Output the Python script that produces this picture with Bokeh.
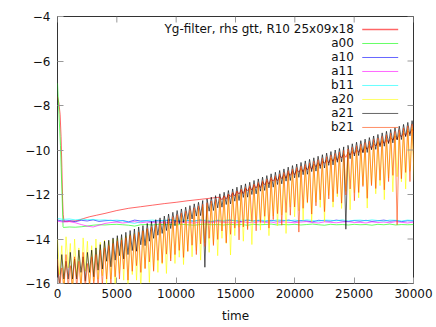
from math import pi
from bokeh.plotting import figure
from bokeh.models import FixedTicker, Label
from bokeh.embed import file_html
from bokeh.resources import INLINE

FONT = "DejaVu Sans"

# ---------------- data ----------------
x_ticks = [0, 5000, 10000, 15000, 20000, 25000, 30000]
y_ticks = [-16, -14, -12, -10, -8, -6, -4]

HALF = 180  # sampling: one peak and one dip per 360 time units

# a21 (black): oscillation peaks and dip depths
a21_peak = [-15.2, -14.7, -15.0, -14.6, -14.9, -14.5, -14.8, -14.6, -14.5, -14.4,
            -14.25, -14.1, -14.05, -13.95, -13.85, -13.8, -13.7, -13.62, -13.55, -13.46,
            -13.4, -13.3, -13.22, -13.13, -13.05, -12.97, -12.88, -12.8, -12.72, -12.65,
            -12.57, -12.5, -12.42, -12.35, -12.27, -12.2, -12.12, -12.05, -11.97, -11.9,
            -11.82, -11.75, -11.67, -11.58, -11.52, -11.45, -11.37, -11.3, -11.22, -11.15,
            -11.07, -11.0, -10.92, -10.85, -10.77, -10.7, -10.63, -10.56, -10.49, -10.42,
            -10.35, -10.28, -10.21, -10.14, -10.07, -10.0, -9.93, -9.86, -9.79, -9.72,
            -9.65, -9.58, -9.51, -9.44, -9.37, -9.3, -9.23, -9.16, -9.08, -9.0,
            -8.93, -8.85, -8.76, -8.68]
a21_depth = [0.9, 1.1, 0.8, 1.2, 0.9, 1.0, 1.1, 0.9, 1.2, 1.0,
             1.1, 0.9, 1.2, 1.0, 0.9, 1.1, 1.0, 0.9, 1.0, 0.8,
             0.9, 0.8, 0.75, 0.7, 0.7, 0.65, 0.65, 0.6, 0.6, 0.6,
             0.55, 0.6, 0.55, 0.6, 3.0, 0.55, 0.6, 0.55, 0.6, 0.55,
             0.6, 0.55, 0.6, 0.55, 0.6, 0.55, 0.6, 0.55, 0.6, 0.55,
             0.6, 0.55, 0.6, 0.55, 0.6, 0.55, 0.6, 0.55, 0.6, 0.55,
             0.6, 0.55, 0.6, 0.55, 0.6, 0.55, 0.6, 3.7, 0.6, 0.55,
             0.6, 0.55, 0.6, 0.55, 0.6, 0.55, 0.6, 0.55, 0.6, 0.55,
             0.6, 0.55, 0.6, 0.55]

# b21 (orange-red)
b21_peak = [-14.9, -15.3, -14.7, -15.2, -14.8, -15.0, -14.6, -15.1, -14.8, -14.7,
            -14.5, -14.4, -14.3, -14.2, -14.1, -14.05, -13.95, -13.85, -13.8, -13.7,
            -13.63, -13.53, -13.45, -13.36, -13.27, -13.18, -13.09, -13.0, -12.91, -12.83,
            -12.75, -12.68, -12.6, -12.52, -12.44, -12.37, -12.29, -12.22, -12.14, -12.07,
            -11.99, -11.91, -11.84, -11.76, -11.68, -11.61, -11.53, -11.46, -11.38, -11.31,
            -11.23, -11.16, -11.08, -11.01, -10.93, -10.86, -10.79, -10.72, -10.65, -10.58,
            -10.51, -10.44, -10.37, -10.3, -10.23, -10.16, -10.09, -10.02, -9.95, -9.88,
            -9.81, -9.74, -9.67, -9.6, -9.53, -9.46, -9.39, -9.32, -9.24, -9.16,
            -9.09, -9.01, -8.92, -8.84]
b21_depth = [1.3, 1.0, 1.5, 1.1, 1.4, 1.2, 1.6, 1.0, 1.3, 1.5,
             1.6, 1.4, 1.8, 1.5, 1.7, 1.3, 1.9, 1.6, 1.4, 1.8,
             1.7, 1.5, 2.0, 1.6, 1.8, 1.5, 1.9, 1.7, 1.6, 2.0,
             1.8, 1.6, 2.1, 1.7, 1.9, 1.6, 2.0, 1.8, 1.5, 2.1,
             1.8, 1.6, 2.2, 1.7, 1.9, 1.6, 2.1, 1.8, 1.6, 2.2,
             1.9, 1.7, 2.3, 1.8, 2.0, 1.7, 2.9, 1.9, 1.7, 2.3,
             2.0, 1.8, 2.4, 1.9, 2.1, 1.8, 2.3, 2.0, 1.8, 2.4,
             2.1, 1.9, 2.5, 2.0, 2.2, 1.9, 2.4, 2.1, 1.9, 4.2,
             2.2, 2.0, 2.5, 2.1]

# a20 (yellow)
a20_peak = [-14.0, -14.3, -13.9, -14.2, -14.0, -14.4, -13.95, -14.1, -14.3, -14.0,
            -14.15, -14.05, -14.1, -14.0, -13.95, -13.95, -13.85, -13.8, -13.75, -13.68,
            -13.62, -13.55, -13.48, -13.4, -13.33, -13.25, -13.17, -13.1, -13.02, -12.95,
            -12.87, -12.8, -12.72, -12.65, -12.57, -12.5, -12.42, -12.35, -12.27, -12.2,
            -12.12, -12.05, -11.97, -11.9, -11.82, -11.75, -11.67, -11.6, -11.52, -11.45,
            -11.37, -11.3, -11.22, -11.15, -11.07, -11.0, -10.93, -10.86, -10.79, -10.72,
            -10.65, -10.58, -10.51, -10.44, -10.37, -10.3, -10.23, -10.16, -10.09, -10.02,
            -9.95, -9.88, -9.81, -9.74, -9.67, -9.6, -9.53, -9.46, -9.38, -9.3,
            -9.23, -9.15, -9.06, -8.98]
a20_depth = [1.6, 2.0, 1.4, 2.2, 1.7, 1.9, 1.5, 2.1, 1.6, 1.8,
             1.5, 2.0, 1.7, 2.2, 1.6, 1.9, 2.3, 1.8, 2.1, 2.6,
             1.7, 2.4, 1.9, 2.1, 1.8, 2.3, 1.7, 2.0, 1.8, 2.2,
             1.7, 2.0, 1.8, 2.3, 1.6, 2.1, 1.8, 2.4, 1.7, 2.0,
             2.6, 1.8, 1.5, 2.2, 1.7, 2.5, 1.6, 2.0, 1.8, 2.4,
             1.6, 2.1, 1.7, 2.6, 1.5, 2.0, 1.8, 2.3, 1.6, 2.5,
             1.7, 2.0, 2.7, 1.6, 2.2, 1.8, 2.4, 1.7, 2.6, 1.9,
             2.2, 1.7, 2.8, 1.8, 2.3, 2.0, 2.7, 1.8, 2.5, 1.9,
             2.2, 2.6, 1.9, 2.4]

# Yg-filter (red): smooth early part, then small wiggles along the oscillation
yg_time = [0, 120, 220, 300, 370, 430, 480, 550, 800, 1200, 1700, 2200,
           2700, 3300, 4000, 5000, 6000, 7000, 8000, 9000, 10000, 11000, 12000, 13000]
yg_value = [-7.6, -7.9, -8.4, -9.4, -10.8, -12.2, -12.9, -13.2, -13.22, -13.2, -13.17, -13.08,
            -13.0, -12.93, -12.85, -12.72, -12.62, -12.55, -12.48, -12.41, -12.35, -12.28, -12.22, -12.16]
YG_OSC_START = 13680
yg_peak = [-12.12, -12.06, -11.99, -11.93, -11.86, -11.8, -11.72, -11.66, -11.58, -11.52,
           -11.44, -11.38, -11.3, -11.24, -11.16, -11.1, -11.02, -10.96, -10.89, -10.83,
           -10.76, -10.7, -10.63, -10.57, -10.5, -10.44, -10.37, -10.31, -10.24, -10.18,
           -10.11, -10.05, -9.98, -9.92, -9.85, -9.79, -9.72, -9.65, -9.58, -9.51,
           -9.44, -9.37, -9.3, -9.22, -9.14, -9.06]
yg_depth = [0.12, 0.15, 0.1, 0.14, 0.12, 0.16, 0.11, 0.14, 0.13, 0.17,
            0.12, 0.15, 0.1, 0.14, 0.13, 0.16, 0.12, 0.15, 0.11, 0.14,
            0.13, 0.17, 0.12, 0.15, 0.1, 0.14, 0.13, 0.16, 0.12, 0.15,
            0.11, 0.14, 0.13, 0.17, 0.12, 0.15, 0.1, 0.14, 0.13, 0.16,
            0.12, 0.15, 0.11, 0.14, 0.13, 0.15]

# nearly constant series, sampled every 500
flat_time = list(range(0, 30001, 500))
a10 = [-13.15, -13.2, -13.17, -13.22, -13.16, -13.19, -13.14, -13.21, -13.18, -13.16,
       -13.2, -13.17, -13.23, -13.15, -13.19, -13.18, -13.22, -13.16, -13.2, -13.14,
       -13.19, -13.21, -13.17, -13.2, -13.15, -13.19, -13.22, -13.17, -13.2, -13.16,
       -13.18, -13.22, -13.15, -13.19, -13.17, -13.21, -13.16, -13.2, -13.18, -13.15,
       -13.21, -13.17, -13.19, -13.23, -13.16, -13.18, -13.2, -13.15, -13.19, -13.22,
       -13.17, -13.2, -13.16, -13.21, -13.18, -13.15, -13.2, -13.17, -13.22, -13.18, -13.19]
b11 = [-13.08, -13.12, -13.1, -13.14, -13.11, -13.13, -13.12, -13.15, -13.14, -13.17,
       -13.15, -13.18, -13.25, -13.3, -13.22, -13.17, -13.15, -13.19, -13.16, -13.14,
       -13.18, -13.15, -13.17, -13.2, -13.14, -13.16, -13.19, -13.15, -13.17, -13.13,
       -13.18, -13.16, -13.14, -13.19, -13.15, -13.17, -13.2, -13.14, -13.16, -13.18,
       -13.15, -13.19, -13.14, -13.17, -13.2, -13.15, -13.16, -13.18, -13.14, -13.19,
       -13.16, -13.15, -13.18, -13.14, -13.17, -13.2, -13.15, -13.16, -13.19, -13.15, -13.17]
a11 = [-13.2, -13.24, -13.22, -13.27, -13.35, -13.42, -13.46, -13.38, -13.3, -13.26,
       -13.24, -13.28, -13.25, -13.22, -13.27, -13.24, -13.26, -13.23, -13.28, -13.25,
       -13.22, -13.26, -13.24, -13.29, -13.23, -13.25, -13.27, -13.22, -13.26, -13.24,
       -13.28, -13.23, -13.25, -13.27, -13.22, -13.26, -13.24, -13.29, -13.23, -13.25,
       -13.27, -13.24, -13.22, -13.26, -13.28, -13.23, -13.25, -13.27, -13.24, -13.22,
       -13.26, -13.25, -13.28, -13.23, -13.26, -13.24, -13.27, -13.22, -13.25, -13.28, -13.24]
a00_time = [0, 250, 470] + list(range(500, 30001, 500))
a00 = [-7.0, -9.8, -13.45,
       -13.48, -13.46, -13.47, -13.45, -13.42, -13.38, -13.36, -13.37, -13.35, -13.34,
       -13.36, -13.38, -13.42, -13.36, -13.35, -13.37, -13.34, -13.36, -13.35, -13.37,
       -13.34, -13.36, -13.38, -13.35, -13.33, -13.36, -13.35, -13.37, -13.34, -13.36,
       -13.35, -13.38, -13.34, -13.36, -13.35, -13.33, -13.37, -13.35, -13.36, -13.34,
       -13.37, -13.35, -13.33, -13.36, -13.38, -13.34, -13.36, -13.35, -13.37, -13.34,
       -13.36, -13.35, -13.38, -13.34, -13.36, -13.33, -13.37, -13.35, -13.36, -13.35]

labels = ["Yg-filter, rhs gtt, R10 25x09x18", "a00", "a10", "a11", "b11", "a20", "a21", "b21"]
colors = ["#ff0000", "#00ff00", "#0000ff", "#ff00ff", "#00ffff", "#ffff00", "#000000", "#ff4500"]
ALPHA = 0.6


def oscillation(peaks, depths, t0=0):
    xs, ys = [], []
    for k, (a, d) in enumerate(zip(peaks, depths)):
        t = t0 + 2 * HALF * k
        xs += [t, t + HALF]
        ys += [a, a - d]
    return xs, ys


# ---------------- figure ----------------
X0, X1 = 0, 30000
Y0, Y1 = -16, -4
p = figure(width=436, height=327, x_range=(X0, X1), y_range=(Y0, Y1),
           output_backend="svg", toolbar_location=None,
           min_border_left=57, min_border_right=23, min_border_top=16, min_border_bottom=44)
p.background_fill_color = "white"
p.border_fill_color = "white"
p.outline_line_color = "#333333"
p.outline_line_width = 1
p.xgrid.visible = False
p.ygrid.visible = False

yg_x = list(yg_time)
yg_y = list(yg_value)
ox, oy = oscillation(yg_peak, yg_depth, YG_OSC_START)
yg_x += ox
yg_y += oy

series = [
    (yg_x, yg_y),
    (a00_time, a00),
    (flat_time, a10),
    (flat_time, a11),
    (flat_time, b11),
    oscillation(a20_peak, a20_depth),
    oscillation(a21_peak, a21_depth),
    oscillation(b21_peak, b21_depth),
]
for (xs, ys), c in zip(series, colors):
    p.line(xs, ys, line_color=c, line_alpha=ALPHA, line_width=1)

# axes styling (ticks inside, gnuplot style)
for ax in [p.xaxis[0], p.yaxis[0]]:
    ax.axis_line_color = None
    ax.major_tick_in = 6
    ax.major_tick_out = 0
    ax.major_tick_line_color = "#999999"
    ax.minor_tick_line_color = None
    ax.major_label_text_font = FONT
    ax.major_label_text_font_size = "12px"
    ax.major_label_text_color = "#111111"

p.xaxis[0].ticker = FixedTicker(ticks=x_ticks)
p.yaxis[0].ticker = FixedTicker(ticks=y_ticks)
p.xaxis[0].major_label_standoff = 5
p.yaxis[0].major_label_standoff = 7
p.xaxis[0].axis_label = "time"
p.xaxis[0].axis_label_text_font = FONT
p.xaxis[0].axis_label_text_font_size = "12px"
p.xaxis[0].axis_label_text_font_style = "normal"
p.xaxis[0].axis_label_standoff = 8
p.xaxis[0].axis_label_text_color = "#111111"

# mirrored ticks on top and right edges (6 px long, inside)
TICK_DX = 6 / 356 * (X1 - X0)
TICK_DY = 6 / 267 * (Y1 - Y0)
p.segment(x0=x_ticks, y0=[Y1] * len(x_ticks), x1=x_ticks, y1=[Y1 - TICK_DY] * len(x_ticks),
          line_color="#999999", line_width=1)
p.segment(x0=[X1] * len(y_ticks), y0=y_ticks, x1=[X1 - TICK_DX] * len(y_ticks), y1=y_ticks,
          line_color="#999999", line_width=1)

# y-axis label with subscript
p.add_layout(Label(x=-3733, y=-10.27, text="log I", angle=pi / 2, text_align="center",
                   text_baseline="middle", text_font=FONT, text_font_size="12px",
                   text_color="#111111"))
p.add_layout(Label(x=-3380, y=-9.45, text="inf", angle=pi / 2, text_align="center",
                   text_baseline="middle", text_font=FONT, text_font_size="9px",
                   text_color="#111111"))

# key (gnuplot style: text right-aligned, sample line to its right)
KEY_TEXT_X = 24970
KEY_X0, KEY_X1 = 25680, 28710
KEY_Y0, KEY_DY = -4.584, 0.629
for i, (lab, c) in enumerate(zip(labels, colors)):
    yy = KEY_Y0 - i * KEY_DY
    p.add_layout(Label(x=KEY_TEXT_X, y=yy, text=lab, text_align="right", text_baseline="middle",
                       text_font=FONT, text_font_size="12px", text_color="#111111"))
    p.segment(x0=[KEY_X0], y0=[yy], x1=[KEY_X1], y1=[yy], line_color=c, line_alpha=ALPHA,
              line_width=1.5 if i == 0 else 1)

open("out.html", "w").write(file_html(p, INLINE))
